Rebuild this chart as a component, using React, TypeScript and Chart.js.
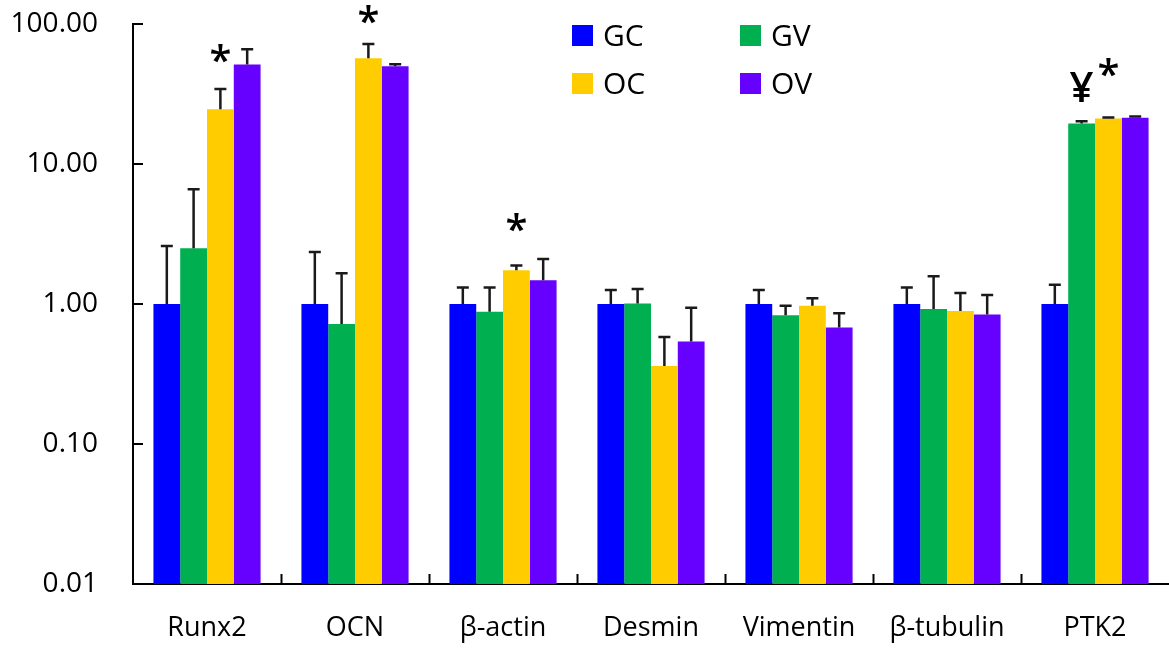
import React, { useEffect, useRef } from "react";
import { Chart, registerables } from "chart.js";

Chart.register(...registerables);

const categories = ["Runx2", "OCN", "β-actin", "Desmin", "Vimentin", "β-tubulin", "PTK2"];
const seriesNames = ["GC", "GV", "OC", "OV"];
const seriesColors = ["#0000FF", "#00B050", "#FFCC00", "#6600FF"];

const gcValues = [1, 1, 1, 1, 1, 1, 1];
const gvValues = [2.5, 0.72, 0.88, 1.01, 0.83, 0.92, 19.5];
const ocValues = [24.6, 57, 1.74, 0.36, 0.97, 0.89, 21.1];
const ovValues = [51.4, 50, 1.48, 0.54, 0.68, 0.84, 21.4];

const gcErrTop = [2.6, 2.35, 1.31, 1.26, 1.26, 1.31, 1.37];
const gvErrTop = [6.6, 1.66, 1.31, 1.28, 0.97, 1.58, 20.2];
const ocErrTop = [34.4, 72, 1.88, 0.58, 1.1, 1.2, 21.5];
const ovErrTop = [66, 51.5, 2.1, 0.94, 0.86, 1.16, 21.8];

const yTicks = [0.01, 0.1, 1, 10, 100];

// significance marks: category index, series index, label, value-position
const markCategory = [0, 1, 2, 6, 6];
const markSeries = [2, 2, 2, 1, 2];
const markLabel = ["*", "*", "*", "¥", "*"];
const markValue = [62, 116, 3.85, 35.2, 49.3];

const FONT = "'Open Sans', 'DejaVu Sans', sans-serif";

const seriesValues = [gcValues, gvValues, ocValues, ovValues];
const seriesErr = [gcErrTop, gvErrTop, ocErrTop, ovErrTop];

const overlayPlugin = {
  id: "overlay",
  afterDatasetsDraw(chart: any) {
    const ctx = chart.ctx;
    const y = chart.scales.y;
    ctx.save();
    ctx.strokeStyle = "#1a1a1a";
    ctx.lineWidth = 2.5;
    chart.data.datasets.forEach((ds: any, di: number) => {
      const meta = chart.getDatasetMeta(di);
      meta.data.forEach((bar: any, i: number) => {
        const top = y.getPixelForValue(seriesErr[di][i]);
        ctx.beginPath();
        ctx.moveTo(bar.x, bar.y);
        ctx.lineTo(bar.x, top);
        ctx.moveTo(bar.x - 6, top);
        ctx.lineTo(bar.x + 6, top);
        ctx.stroke();
      });
    });
    ctx.restore();
  },
  afterDraw(chart: any) {
    const ctx = chart.ctx;
    const xs = chart.scales.x;
    const ys = chart.scales.y;
    const area = chart.chartArea;
    ctx.save();
    // inner tick marks
    ctx.strokeStyle = "#000";
    ctx.lineWidth = 2;
    yTicks.forEach((v) => {
      const py = Math.round(ys.getPixelForValue(v));
      ctx.beginPath();
      ctx.moveTo(area.left, py);
      ctx.lineTo(area.left + 10, py);
      ctx.stroke();
    });
    for (let i = 0; i < categories.length - 1; i++) {
      const px = Math.round((xs.getPixelForTick(i) + xs.getPixelForTick(i + 1)) / 2) + 0.5;
      ctx.beginPath();
      ctx.moveTo(px, area.bottom);
      ctx.lineTo(px, area.bottom - 10);
      ctx.stroke();
    }
    // significance marks
    ctx.fillStyle = "#000";
    ctx.textAlign = "center";
    ctx.textBaseline = "alphabetic";
    for (let k = 0; k < markLabel.length; k++) {
      const bar = chart.getDatasetMeta(markSeries[k]).data[markCategory[k]];
      const cy = ys.getPixelForValue(markValue[k]);
      ctx.font = markLabel[k] === "*" ? `600 40px ${FONT}` : `600 42px ${FONT}`;
      const m = ctx.measureText(markLabel[k]);
      const off = (m.actualBoundingBoxAscent - m.actualBoundingBoxDescent) / 2;
      ctx.fillText(markLabel[k], bar.x, cy + off);
    }
    // legend 2x2
    const colX = [572, 740];
    const rowY = [25, 73];
    ctx.textAlign = "left";
    ctx.textBaseline = "middle";
    ctx.font = `30px ${FONT}`;
    seriesNames.forEach((name, i) => {
      const bx = colX[i % 2];
      const by = rowY[Math.floor(i / 2)];
      ctx.fillStyle = seriesColors[i];
      ctx.fillRect(bx, by, 21, 21);
      ctx.fillStyle = "#000";
      ctx.fillText(name, bx + 31, by + 12);
    });
    ctx.restore();
  },
};

export default function App() {
  const ref = useRef<HTMLCanvasElement | null>(null);
  useEffect(() => {
    if (!ref.current) return;
    const chart = new Chart(ref.current, {
      type: "bar",
      data: {
        labels: categories,
        datasets: seriesNames.map((name, i) => ({
          label: name,
          data: seriesValues[i],
          backgroundColor: seriesColors[i],
          borderWidth: 0,
          categoryPercentage: 0.724,
          barPercentage: 1,
        })),
      },
      options: {
        animation: false,
        responsive: true,
        maintainAspectRatio: false,
        layout: { padding: { top: 24, left: 0, right: 0, bottom: 0 } },
        plugins: {
          legend: { display: false },
          tooltip: { enabled: false },
        },
        scales: {
          x: {
            grid: { display: false },
            border: { display: true, color: "#000", width: 2 },
            ticks: {
              color: "#000",
              padding: 20,
              maxRotation: 0,
              font: { family: FONT, size: 27 },
            },
            afterFit: (s: any) => {
              s.height = 64;
            },
          },
          y: {
            type: "logarithmic",
            min: 0.01,
            max: 100,
            grid: { display: false },
            border: { display: true, color: "#000", width: 2 },
            afterBuildTicks: (s: any) => {
              s.ticks = yTicks.map((v) => ({ value: v }));
            },
            ticks: {
              color: "#000",
              padding: 27,
              font: { family: FONT, size: 28, lineHeight: 0.1 },
              callback: (v: any) => Number(v).toFixed(2),
            },
            afterFit: (s: any) => {
              s.width = 133;
              s.paddingTop = 0;
              s.paddingBottom = 0;
            },
          },
        },
      },
      plugins: [overlayPlugin],
    });
    return () => chart.destroy();
  }, []);
  return (
    <div style={{ position: "fixed", left: 0, top: 0, width: 1169, height: 648, background: "#fff" }}>
      <canvas ref={ref} style={{ width: "100%", height: "100%" }} />
    </div>
  );
}
